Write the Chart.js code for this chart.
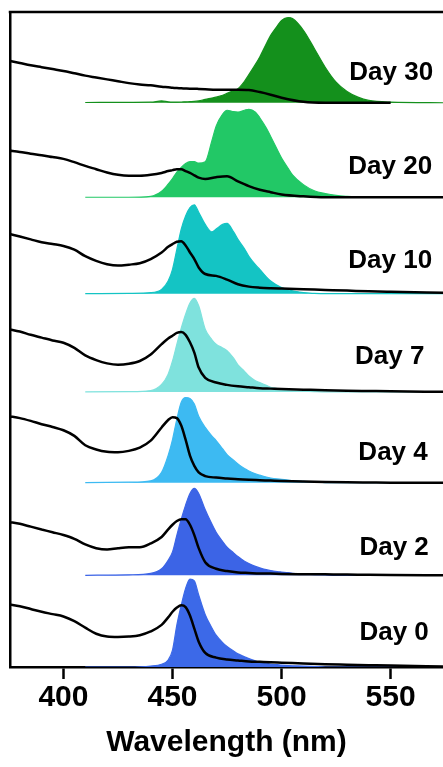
<!DOCTYPE html>
<html>
<head>
<meta charset="utf-8">
<script src="https://cdn.jsdelivr.net/npm/chart.js@4.4.0/dist/chart.umd.min.js"></script>
<style>
  html, body { margin: 0; padding: 0; background: #fff; }
  #wrap { width: 443px; height: 767px; }
</style>
</head>
<body>
<div id="wrap"><canvas id="spectra"></canvas></div>
<script>
// stacked spectra, one panel per day (emission filled, absorption black)
const days = ['Day 0', 'Day 2', 'Day 4', 'Day 7', 'Day 10', 'Day 20', 'Day 30'];
const offsets = [0, 0.98, 1.97, 2.94, 3.99, 5.02, 6.03];
const fillColors = ['#3c69e8', '#3c64e6', '#3dbaf2', '#7fe2dd', '#14c4c4', '#22c866', '#14901c'];
const xTicks = [400, 450, 500, 550];

// day label positions (wavelength of right edge, y in panel units)
const labelX = [567.5, 567.5, 567, 565.5, 569, 569, 569.5];
const labelY = [0.37, 1.27, 2.29, 3.32, 4.34, 5.35, 6.35];

// emission wavelengths (nm)
const emWl = [410, 430, 440, 445, 448, 450, 452, 454, 456, 458, 460, 462, 465, 468, 470, 473, 475, 478, 480, 483,
              485, 488, 490, 493, 495, 498, 500, 503, 505, 510, 515, 520, 525, 530, 535, 540, 550, 575];
const emDay0 = [0, 0, 0.01, 0.03, 0.075, 0.18, 0.45, 0.66, 0.84, 0.94, 0.92, 0.77, 0.56, 0.42, 0.34, 0.26, 0.22, 0.17, 0.14, 0.11,
                0.09, 0.065, 0.05, 0.04, 0.03, 0.025, 0.02, 0.015, 0.013, 0.01, 0.005, 0, 0, 0, 0, 0, 0, 0];
const emDay2 = [0, 0.005, 0.02, 0.07, 0.16, 0.25, 0.43, 0.60, 0.75, 0.875, 0.93, 0.875, 0.70, 0.55, 0.46, 0.36, 0.30, 0.24, 0.20, 0.15,
                0.125, 0.095, 0.08, 0.06, 0.05, 0.04, 0.035, 0.028, 0.022, 0.015, 0.008, 0.003, 0, 0, 0, 0, 0, 0];
const emDay4 = [0, 0.005, 0.02, 0.11, 0.29, 0.46, 0.68, 0.86, 0.91, 0.90, 0.84, 0.71, 0.59, 0.50, 0.45, 0.36, 0.30, 0.24, 0.20, 0.15,
                0.125, 0.095, 0.08, 0.06, 0.05, 0.04, 0.036, 0.028, 0.022, 0.015, 0.007, 0, 0, 0, 0, 0, 0, 0];
const emDay7 = [0, 0.003, 0.014, 0.08, 0.19, 0.33, 0.51, 0.68, 0.83, 0.95, 1.0, 0.92, 0.67, 0.56, 0.51, 0.47, 0.44, 0.36, 0.29, 0.22,
                0.17, 0.12, 0.10, 0.07, 0.05, 0.035, 0.025, 0.015, 0.01, 0.007, 0.003, 0, 0, 0, 0, 0, 0, 0];
const emDay10 = [0, 0.003, 0.01, 0.046, 0.135, 0.26, 0.475, 0.69, 0.83, 0.92, 0.95, 0.87, 0.74, 0.66, 0.69, 0.74, 0.75, 0.66, 0.58, 0.48,
                 0.40, 0.31, 0.26, 0.18, 0.135, 0.09, 0.064, 0.04, 0.03, 0.01, 0.003, 0, 0, 0, 0, 0, 0, 0];
const emDay20 = [0, 0, 0.01, 0.064, 0.14, 0.20, 0.27, 0.32, 0.36, 0.38, 0.38, 0.365, 0.38, 0.60, 0.76, 0.89, 0.93, 0.915, 0.91, 0.93,
                 0.94, 0.91, 0.85, 0.74, 0.65, 0.51, 0.42, 0.31, 0.24, 0.135, 0.07, 0.04, 0.02, 0.01, 0.004, 0, 0, 0];
const emDay30 = [0.003, 0.005, 0.006, 0.02, 0.01, 0.007, 0.007, 0.008, 0.01, 0.012, 0.014, 0.02, 0.036, 0.05, 0.06, 0.08, 0.10, 0.13, 0.15, 0.23,
                 0.30, 0.41, 0.49, 0.63, 0.72, 0.82, 0.88, 0.91, 0.90, 0.775, 0.58, 0.38, 0.22, 0.12, 0.06, 0.025, 0.007, 0];

// absorption wavelengths (nm)
const absWl = [375, 380, 385, 390, 395, 400, 405, 410, 415, 420, 425, 430, 435, 440, 445, 448, 450, 452, 454, 456,
               458, 460, 462, 465, 470, 475, 480, 485, 490, 495, 500, 510, 520, 530, 540, 550, 575];
const absDay0 = [0.67, 0.65, 0.62, 0.59, 0.565, 0.54, 0.49, 0.42, 0.355, 0.325, 0.32, 0.325, 0.34, 0.38, 0.45, 0.53, 0.59, 0.635, 0.66, 0.64,
                 0.55, 0.41, 0.27, 0.15, 0.10, 0.08, 0.07, 0.06, 0.055, 0.05, 0.046, 0.038, 0.03, 0.025, 0.02, 0.015, 0.005];
const absDay2 = [0.57, 0.55, 0.52, 0.49, 0.46, 0.43, 0.39, 0.33, 0.29, 0.275, 0.29, 0.30, 0.30, 0.34, 0.41, 0.49, 0.54, 0.58, 0.60, 0.60,
                 0.54, 0.43, 0.29, 0.14, 0.07, 0.045, 0.03, 0.025, 0.02, 0.018, 0.015, 0.012, 0.01, 0.008, 0.005, 0.003, 0];
const absDay4 = [0.71, 0.69, 0.66, 0.625, 0.595, 0.56, 0.50, 0.40, 0.355, 0.33, 0.325, 0.34, 0.375, 0.45, 0.59, 0.67, 0.70, 0.69, 0.61, 0.46,
                 0.29, 0.18, 0.11, 0.07, 0.054, 0.045, 0.036, 0.03, 0.026, 0.022, 0.018, 0.012, 0.007, 0.004, 0.002, 0, 0];
const absDay7 = [0.67, 0.645, 0.61, 0.58, 0.55, 0.525, 0.47, 0.39, 0.34, 0.305, 0.29, 0.30, 0.33, 0.40, 0.51, 0.57, 0.60, 0.63, 0.64, 0.61,
                 0.53, 0.42, 0.26, 0.15, 0.10, 0.075, 0.06, 0.05, 0.04, 0.035, 0.03, 0.024, 0.018, 0.013, 0.01, 0.007, 0];
const absDay10 = [0.64, 0.61, 0.58, 0.55, 0.53, 0.51, 0.47, 0.40, 0.35, 0.315, 0.30, 0.31, 0.325, 0.37, 0.44, 0.50, 0.53, 0.555, 0.56, 0.515,
                  0.44, 0.37, 0.28, 0.21, 0.19, 0.15, 0.10, 0.075, 0.064, 0.058, 0.054, 0.047, 0.04, 0.033, 0.025, 0.02, 0.01];
const absDay20 = [0.50, 0.485, 0.465, 0.45, 0.43, 0.41, 0.375, 0.335, 0.30, 0.265, 0.24, 0.23, 0.23, 0.24, 0.26, 0.28, 0.29, 0.30, 0.30, 0.28,
                  0.26, 0.235, 0.21, 0.196, 0.215, 0.225, 0.17, 0.12, 0.08, 0.054, 0.03, 0.01, 0, 0, 0, 0, 0];
const absDay30 = [0.45, 0.425, 0.40, 0.38, 0.36, 0.34, 0.315, 0.29, 0.27, 0.25, 0.23, 0.21, 0.195, 0.186, 0.17, 0.165, 0.16, 0.157, 0.155, 0.152,
                  0.15, 0.15, 0.148, 0.145, 0.14, 0.14, 0.14, 0.136, 0.114, 0.086, 0.054, 0.01, 0, 0, 0, 0, null];

const emission = [emDay0, emDay2, emDay4, emDay7, emDay10, emDay20, emDay30];
const absorption = [absDay0, absDay2, absDay4, absDay7, absDay10, absDay20, absDay30];

const FONT = '"Liberation Sans", Arial, sans-serif';

// shift each panel up by its offset
function stacked(wl, vals, off) {
    return wl.map((w, k) => ({ x: w, y: vals[k] === null ? null : vals[k] + off }));
}

const datasets = [];
days.forEach((d, i) => {
    datasets.push({
        label: d + ' emission',
        data: stacked(emWl, emission[i], offsets[i]),
        borderColor: fillColors[i],
        backgroundColor: fillColors[i],
        borderWidth: 1.2,
        fill: { value: offsets[i] },
        pointRadius: 0,
        cubicInterpolationMode: 'monotone',
        order: 2
    });
    datasets.push({
        label: d + ' absorption',
        data: stacked(absWl, absorption[i], offsets[i]),
        borderColor: '#000',
        borderWidth: 2.5,
        fill: false,
        pointRadius: 0,
        cubicInterpolationMode: 'monotone',
        order: 1
    });
});

// top frame line + day labels
const decorations = {
    id: 'decorations',
    afterDatasetsDraw(chart) {
        const { ctx, chartArea, scales } = chart;
        ctx.save();
        ctx.strokeStyle = '#000';
        ctx.lineWidth = 2.5;
        ctx.beginPath();
        ctx.moveTo(chartArea.left - 1.25, chartArea.top);
        ctx.lineTo(chartArea.right, chartArea.top);
        ctx.stroke();

        ctx.fillStyle = '#000';
        ctx.font = 'bold 26px ' + FONT;
        ctx.textAlign = 'right';
        ctx.textBaseline = 'middle';
        days.forEach((d, i) => {
            ctx.fillText(d, scales.x.getPixelForValue(labelX[i]), scales.y.getPixelForValue(labelY[i]));
        });
        ctx.restore();
    }
};

const ctx = document.getElementById('spectra').getContext('2d');
new Chart(ctx, {
    type: 'line',
    data: { datasets: datasets },
    options: {
        responsive: true,
        maintainAspectRatio: false,
        animation: false,
        layout: { padding: { left: 10, right: 0, top: 12, bottom: 6 } },
        plugins: { legend: { display: false }, tooltip: { enabled: false } },
        scales: {
            x: {
                type: 'linear',
                min: 375.5,
                max: 574,
                afterBuildTicks: (axis) => { axis.ticks = xTicks.map(v => ({ value: v })); },
                grid: { drawOnChartArea: false, drawTicks: true, tickLength: 12, tickWidth: 2.5, tickColor: '#000' },
                border: { display: true, color: '#000', width: 2.5 },
                ticks: { color: '#000', padding: 1, font: { family: FONT, size: 30, weight: 'bold' } },
                title: {
                    display: true,
                    text: 'Wavelength (nm)',
                    color: '#000',
                    padding: { top: 8, bottom: 0 },
                    font: { family: FONT, size: 30, weight: 'bold' }
                }
            },
            y: {
                min: 0,
                max: 7,
                grid: { display: false, drawTicks: false },
                ticks: { display: false },
                border: { display: true, color: '#000', width: 2.5 }
            }
        }
    },
    plugins: [decorations]
});
</script>
</body>
</html>
